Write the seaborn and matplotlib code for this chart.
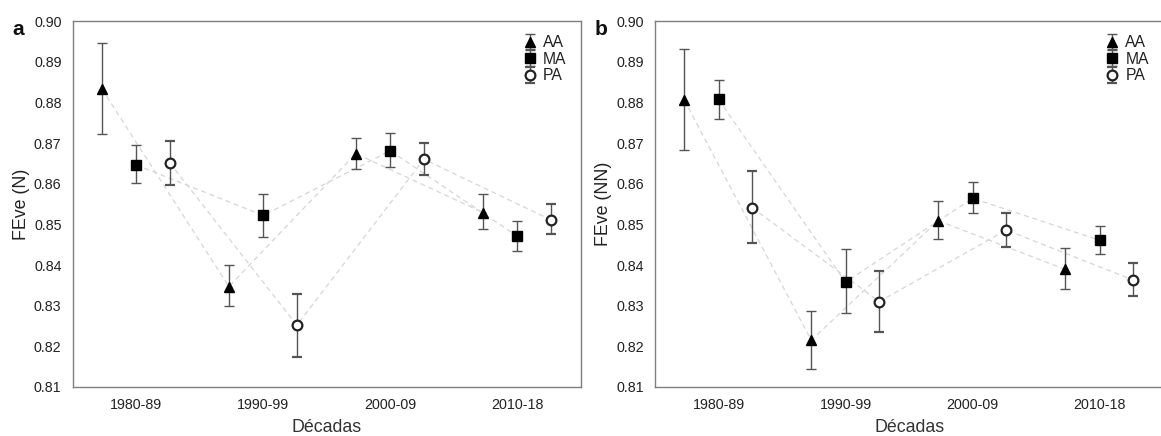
import numpy as np
import pandas as pd
import matplotlib
matplotlib.use("Agg")
import matplotlib.pyplot as plt
import seaborn as sns

# Decades on the x axis
decades = ["1980-89", "1990-99", "2000-09", "2010-18"]
groups = ["AA", "MA", "PA"]

# Panel a: FEve (N) — mean, lower and upper limits per group
n_mean = {"AA": [0.8833, 0.8347, 0.8674, 0.8529],
          "MA": [0.8646, 0.8522, 0.8681, 0.8471],
          "PA": [0.8651, 0.8252, 0.8660, 0.8511]}
n_low = {"AA": [0.8721, 0.8298, 0.8637, 0.8488],
         "MA": [0.8601, 0.8469, 0.8642, 0.8434],
         "PA": [0.8597, 0.8174, 0.8622, 0.8477]}
n_high = {"AA": [0.8947, 0.8399, 0.8713, 0.8574],
          "MA": [0.8694, 0.8574, 0.8724, 0.8509],
          "PA": [0.8706, 0.8329, 0.8701, 0.8550]}

# Panel b: FEve (NN)
nn_mean = {"AA": [0.8806, 0.8215, 0.8509, 0.8389],
           "MA": [0.8807, 0.8358, 0.8564, 0.8461],
           "PA": [0.8541, 0.8310, 0.8486, 0.8363]}
nn_low = {"AA": [0.8683, 0.8145, 0.8465, 0.8340],
          "MA": [0.8760, 0.8282, 0.8527, 0.8428],
          "PA": [0.8453, 0.8235, 0.8444, 0.8323]}
nn_high = {"AA": [0.8931, 0.8287, 0.8558, 0.8441],
           "MA": [0.8855, 0.8439, 0.8604, 0.8495],
           "PA": [0.8631, 0.8386, 0.8528, 0.8406]}

sns.set_theme(style="white")
plt.rcParams["font.family"] = ["Liberation Sans", "DejaVu Sans"]

offsets = {"AA": -0.27, "MA": 0.0, "PA": 0.265}
styles = {
    "AA": dict(marker="^", markersize=7.5, markerfacecolor="black", markeredgecolor="black", mew=1.0),
    "MA": dict(marker="s", markersize=7, markerfacecolor="black", markeredgecolor="black", mew=1.0),
    "PA": dict(marker="o", markersize=7, markerfacecolor="white", markeredgecolor="#222222", mew=1.6),
}

fig = plt.figure(figsize=(11.61, 4.36), dpi=100)
ax_a = fig.add_axes([0.0626, 0.1124, 0.4376, 0.8394])
ax_b = fig.add_axes([0.5642, 0.1124, 0.4376, 0.8394])


def build_frame(mean, low, high):
    rows = []
    for g in groups:
        for i, d in enumerate(decades):
            rows.append(dict(group=g, decade=d, pos=i + offsets[g],
                             value=mean[g][i], low=low[g][i], high=high[g][i]))
    return pd.DataFrame(rows)


def draw_panel(ax, mean, low, high, ylabel, letter):
    df = build_frame(mean, low, high)
    # light dashed connectors for each group
    sns.lineplot(data=df, x="pos", y="value", units="group", estimator=None,
                 color="#d6d6d6", linewidth=0.9, dashes=False, linestyle=(0, (4, 3)),
                 sort=False, ax=ax, zorder=1, legend=False)
    for g in groups:
        sub = df[df.group == g]
        yerr = np.vstack([sub.value - sub.low, sub.high - sub.value])
        eb = ax.errorbar(sub.pos, sub.value, yerr=yerr, linestyle="none",
                         ecolor="#555555", elinewidth=1.0, capsize=3.5, capthick=1.0,
                         label=g, zorder=3, **styles[g])
        for cap in eb[1]:
            cap.set_color("#9a9a9a")
    ax.set_xlim(-0.5, 3.5)
    ax.set_ylim(0.81, 0.90)
    ax.set_xticks(range(len(decades)))
    ax.set_xticklabels(decades)
    ax.set_yticks(np.round(np.arange(0.81, 0.9001, 0.01), 2))
    ax.yaxis.set_major_formatter(matplotlib.ticker.FormatStrFormatter("%.2f"))
    ax.tick_params(axis="both", direction="in", length=2, width=0.8, color="#999999",
                   labelsize=10.3, labelcolor="#222222", pad=8)
    ax.tick_params(axis="y", pad=8)
    for s in ax.spines.values():
        s.set_color("#7f7f7f")
        s.set_linewidth(1.0)
        s.set_visible(True)
    ax.set_xlabel("Décadas", fontsize=12.8, color="#333333", labelpad=5)
    ax.set_ylabel(ylabel, fontsize=12.8, color="#222222", labelpad=3)
    leg = ax.legend(loc="upper right", frameon=False, fontsize=11.3,
                    handlelength=1.0, handletextpad=0.35, labelspacing=0.1,
                    borderaxespad=0.5)
    for t in leg.get_texts():
        t.set_color("#222222")
    fig.text(ax.get_position().x0 - 0.052, 0.933, letter, fontsize=15,
             fontweight="bold", ha="left", va="center", color="#111111")


draw_panel(ax_a, n_mean, n_low, n_high, "FEve (N)", "a")
draw_panel(ax_b, nn_mean, nn_low, nn_high, "FEve (NN)", "b")

fig.savefig("out.png", dpi=100)
